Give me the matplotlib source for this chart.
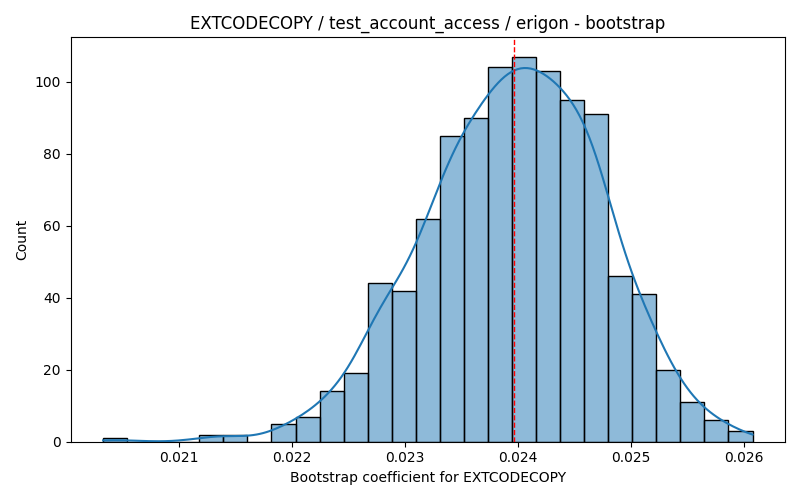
import numpy as np
import pandas as pd
import matplotlib
matplotlib.use("Agg")
import matplotlib.pyplot as plt
import seaborn as sns

# bootstrap histogram (27 bins, 1000 samples)
bin_lo = 0.020328
bin_hi = 0.026074
counts = [1, 0, 0, 0, 2, 2, 0, 5, 7, 14, 19, 44, 42, 62, 85, 90,
          104, 107, 103, 95, 91, 46, 41, 20, 11, 6, 3]
mean_value = 0.023962
feature = "EXTCODECOPY"
title = "EXTCODECOPY / test_account_access / erigon - bootstrap"

edges = np.linspace(bin_lo, bin_hi, len(counts) + 1)
centers = (edges[:-1] + edges[1:]) / 2
# zero-weight end points keep the kde support over the full data range
df = pd.DataFrame({
    "coef": np.concatenate([[bin_lo], centers, [bin_hi]]),
    "w": np.concatenate([[0], counts, [0]]).astype(float),
})

# weighted bins shrink the effective sample size, so scale the bandwidth
# back towards what 1000 raw samples would give
w = np.array(counts, dtype=float)
n_eff = w.sum() ** 2 / (w ** 2).sum()
bw = (w.sum() / n_eff) ** (-1 / 5)

fig, ax = plt.subplots(figsize=(8, 5), dpi=100)
sns.histplot(data=df, x="coef", weights="w", bins=len(counts),
             binrange=(bin_lo, bin_hi), kde=True,
             kde_kws={"bw_adjust": bw}, ax=ax)
ax.axvline(mean_value, color="red", linestyle="--", linewidth=1)
ax.set_title(title)
ax.set_xlabel(f"Bootstrap coefficient for {feature}")
ax.set_ylabel("Count")
plt.tight_layout()
plt.savefig("out.png")
